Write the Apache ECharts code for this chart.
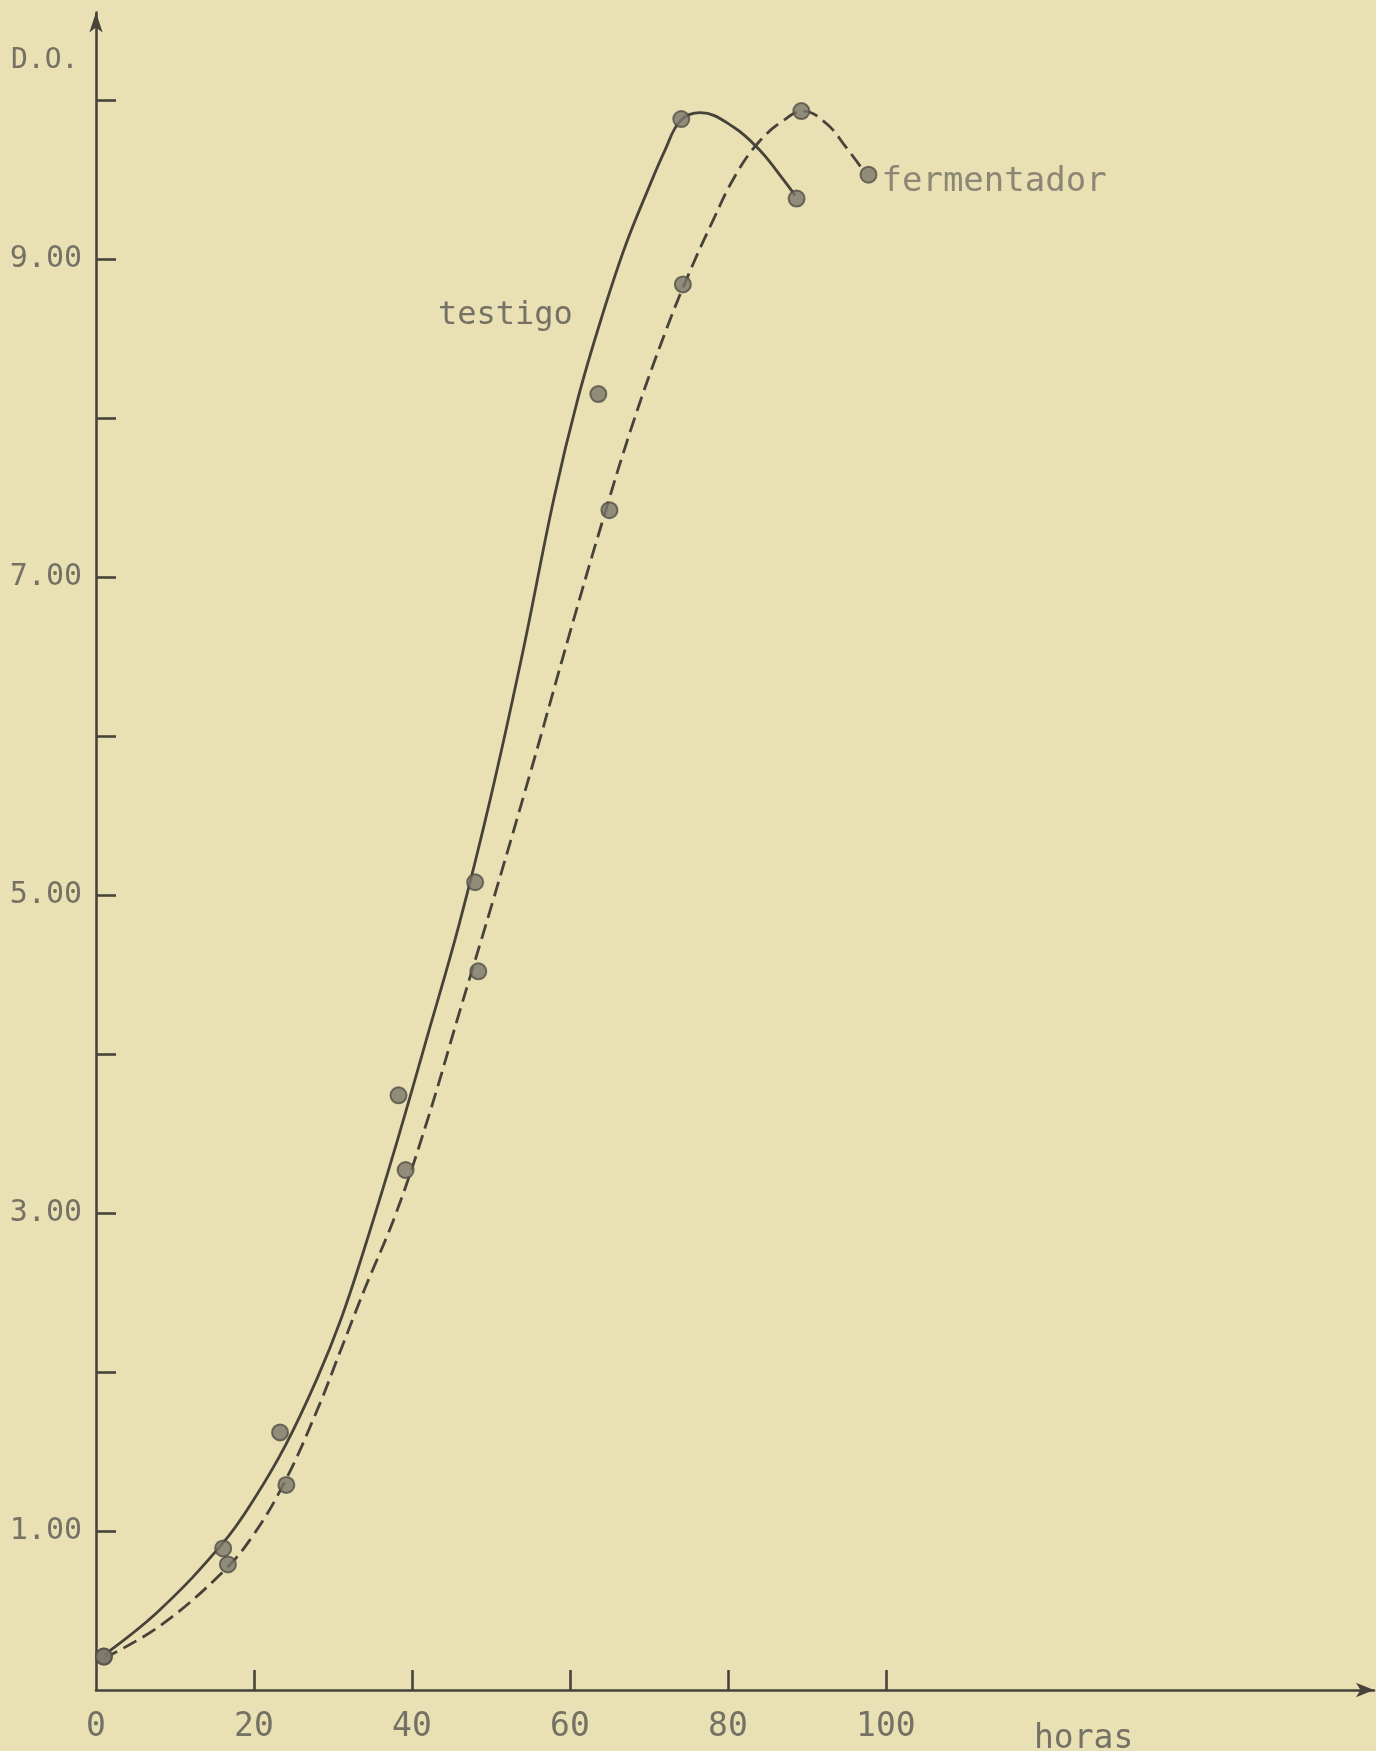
<!DOCTYPE html>
<html>
<head>
<meta charset="utf-8">
<title>D.O. vs horas</title>
<script src="https://cdn.jsdelivr.net/npm/echarts@6/dist/echarts.min.js"></script>
<style>
  html, body { margin: 0; padding: 0; background: #e9e0b3; }
  #chart { width: 1376px; height: 1751px; }
</style>
</head>
<body>
<div id="chart"></div>
<script>
// Optical density (D.O.) over time (horas) for the control ("testigo")
// and the fermenter ("fermentador").

// Measured points: [hours, D.O.]
const testigoPoints = [
  [1, 0.21], [16.1, 0.89], [23.3, 1.62], [38.3, 3.74], [48.0, 5.08],
  [63.6, 8.15], [74.1, 9.88], [88.7, 9.38]
];
const fermentadorPoints = [
  [1, 0.21], [16.7, 0.79], [24.1, 1.29], [39.2, 3.27], [48.4, 4.52],
  [65.0, 7.42], [74.3, 8.84], [89.3, 9.93], [97.8, 9.53]
];

// Hand-drawn fitted growth curves: [hours, D.O.]
const testigoCurve = [
  [1, 0.22], [8, 0.50], [16, 0.92], [20, 1.20], [24, 1.54], [28, 1.96],
  [31, 2.33], [34, 2.78], [38, 3.43], [42, 4.12], [46, 4.82], [50, 5.62],
  [54, 6.52], [58, 7.50], [61, 8.12], [64, 8.63], [67, 9.08], [70, 9.45],
  [72, 9.68], [74, 9.87], [76.5, 9.92], [80.7, 9.83], [84.1, 9.68],
  [87.0, 9.50], [88.5, 9.40]
];
const fermentadorCurve = [
  [1, 0.20], [8, 0.40], [16, 0.74], [20, 0.98], [24, 1.32], [28, 1.76],
  [31, 2.14], [34, 2.52], [38, 3.00], [42, 3.59], [46, 4.26], [50, 4.92],
  [55, 5.77], [60, 6.65], [64, 7.33], [68, 7.97], [72, 8.53], [75, 8.90],
  [78, 9.23], [81, 9.53], [84, 9.74], [87, 9.87], [89.5, 9.93], [92.5, 9.85],
  [95.0, 9.70], [97.1, 9.56]
];

// Axis ticks and labels
const xTickValues = [20, 40, 60, 80, 100];
const xLabelValues = [0, 20, 40, 60, 80, 100];
const yTickValues = [1, 2, 3, 4, 5, 6, 7, 8, 9, 10];
const yLabelValues = [1, 3, 5, 7, 9];

const ink = '#47433a';
const textInk = '#747165';
const mono = '"DejaVu Sans Mono", "Liberation Mono", monospace';

const chart = echarts.init(document.getElementById('chart'), null, { renderer: 'canvas' });

const dotStyle = {
  color: '#7a776a',
  borderColor: '#524f47',
  borderWidth: 2
};

chart.setOption({
  backgroundColor: '#e9e0b3',
  animation: false,
  grid: { left: 96, top: 12.5, right: 2, bottom: 61 },
  xAxis: {
    type: 'value',
    min: 0,
    max: 161.8,
    splitLine: { show: false },
    axisLine: {
      show: true,
      symbol: ['none', 'arrow'],
      symbolSize: [11, 18],
      lineStyle: { color: ink, width: 2.6 }
    },
    axisTick: {
      show: true,
      inside: true,
      length: 20,
      customValues: xTickValues,
      lineStyle: { color: ink, width: 2.6 }
    },
    axisLabel: {
      show: true,
      customValues: xLabelValues,
      margin: 21,
      color: textInk,
      fontFamily: mono,
      fontSize: 33
    }
  },
  yAxis: {
    type: 'value',
    min: 0,
    max: 10.55,
    splitLine: { show: false },
    axisLine: {
      show: true,
      symbol: ['none', 'arrow'],
      symbolSize: [10, 20],
      lineStyle: { color: ink, width: 2.6 }
    },
    axisTick: {
      show: true,
      inside: true,
      length: 20,
      customValues: yTickValues,
      lineStyle: { color: ink, width: 2.6 }
    },
    axisLabel: {
      show: true,
      customValues: yLabelValues,
      margin: 14,
      color: textInk,
      fontFamily: mono,
      fontSize: 30,
      formatter: v => v.toFixed(2)
    }
  },
  series: [
    {
      name: 'testigo',
      type: 'line',
      data: testigoCurve,
      smooth: 0.4,
      showSymbol: false,
      lineStyle: { color: ink, width: 2.8, type: 'solid' },
      z: 2
    },
    {
      name: 'fermentador',
      type: 'line',
      data: fermentadorCurve,
      smooth: 0.4,
      showSymbol: false,
      lineStyle: { color: ink, width: 2.8, type: [15, 7] },
      z: 2
    },
    {
      name: 'testigo (medidas)',
      type: 'scatter',
      data: testigoPoints,
      symbolSize: 16,
      itemStyle: dotStyle,
      z: 3
    },
    {
      name: 'fermentador (medidas)',
      type: 'scatter',
      data: fermentadorPoints.map((p, i) => i === fermentadorPoints.length - 1
        ? {
            value: p,
            label: {
              show: true,
              position: 'right',
              distance: 4,
              offset: [0, 7],
              formatter: 'fermentador',
              color: textInk,
              fontFamily: mono,
              fontSize: 34
            }
          }
        : p),
      symbolSize: 16,
      itemStyle: dotStyle,
      z: 3
    }
  ],
  graphic: [
    {
      type: 'text',
      left: 11,
      top: 47,
      style: { text: 'D.O.', fill: textInk, font: '28px ' + mono }
    },
    {
      type: 'text',
      left: 438,
      top: 300,
      style: { text: 'testigo', fill: textInk, font: '32px ' + mono }
    },
    {
      type: 'text',
      left: 1034,
      top: 1723,
      style: { text: 'horas', fill: textInk, font: '33px ' + mono }
    }
  ]
});
</script>
</body>
</html>
